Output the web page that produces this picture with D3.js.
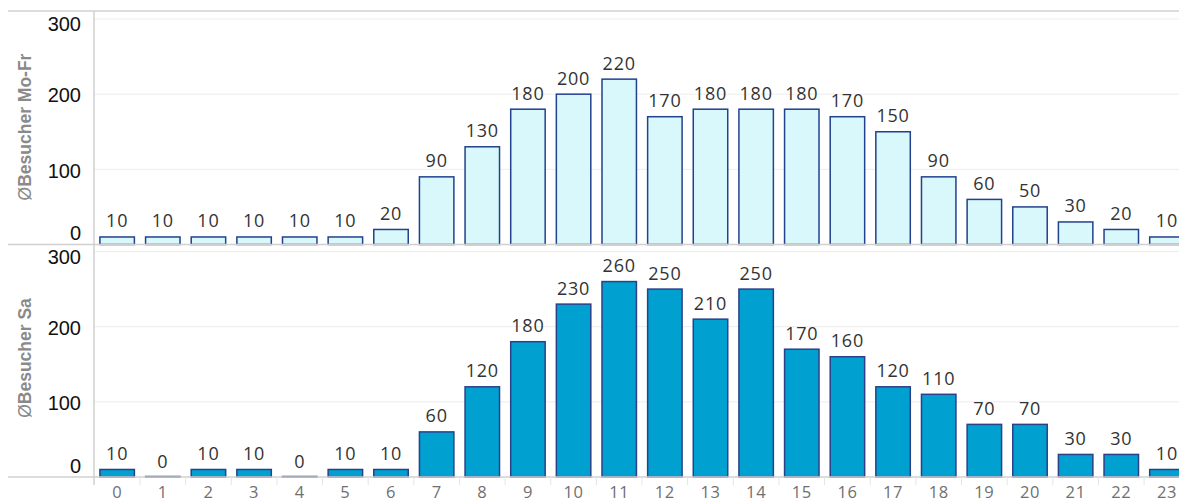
<!DOCTYPE html>
<html>
<head>
<meta charset="utf-8">
<script src="https://cdn.jsdelivr.net/npm/d3@7"></script>
<style>
body { margin: 0; background: #fff; }
svg { display: block; }
</style>
</head>
<body>
<div id="chart"></div>
<script>
// hours of the day
const hours = d3.range(0, 24).map(String);
const moFr = [10,10,10,10,10,10,20,90,130,180,200,220,170,180,180,180,170,150,90,60,50,30,20,10];
const sa   = [10,0,10,10,0,10,10,60,120,180,230,260,250,210,250,170,160,120,110,70,70,30,30,10];
const yTicks = [0, 100, 200, 300];
const panelTitles = ["Besucher Mo-Fr", "Besucher Sa"];

const W = 1179, H = 502;
const axisX = 94;

const svg = d3.select("#chart").append("svg")
  .attr("width", W).attr("height", H);

const x = d3.scaleBand()
  .domain(hours)
  .range([axisX, axisX + 24 * 45.67])
  .paddingInner(0.245)
  .paddingOuter(0.13);

const panels = [
  { data: moFr, top: 11, base: 244.5, fill: "#d8f8fc", stroke: "#22418e", title: panelTitles[0], tmid: 127 },
  { data: sa,   top: 244.5, base: 477, fill: "#00a0d1", stroke: "#2a4089", title: panelTitles[1], tmid: 358 }
];

panels.forEach((p, pi) => {
  const y = d3.scaleLinear().domain([0, 300]).range([p.base, p.base - 225.5]);
  const g = svg.append("g");

  // gridlines
  g.selectAll(".grid").data(yTicks.filter(t => t > 0)).enter().append("line")
    .attr("x1", axisX).attr("x2", W)
    .attr("y1", d => y(d)).attr("y2", d => y(d))
    .attr("stroke", "#ededed").attr("stroke-width", 1);

  // y tick labels (kept inside the pane like the original)
  g.selectAll(".tick").data(yTicks).enter().append("text")
    .attr("x", 81)
    .attr("y", d => {
      let yy = y(d) + 1;
      if (d === 0) yy = p.base - 11.5;
      if (d === 300) yy = Math.max(yy, p.top + 12.5);
      return yy;
    })
    .attr("dy", "0.36em")
    .attr("text-anchor", "end")
    .attr("font-family", "Liberation Sans, Arial, sans-serif")
    .attr("font-size", 20)
    .attr("fill", "#111")
    .text(d => d);

  // axis title
  const t = g.append("text")
    .attr("transform", `translate(31,${p.tmid}) rotate(-90)`)
    .attr("text-anchor", "middle")
    .attr("font-family", "Liberation Sans, Arial, sans-serif")
    .attr("font-size", 17.5)
    .attr("fill", "#8a8a8a");
  t.append("tspan").text("Ø");
  t.append("tspan").attr("font-weight", "bold").text(p.title);

  // bars
  g.selectAll(".bar").data(p.data).enter().append("rect")
    .attr("x", (d, i) => x(hours[i]))
    .attr("width", x.bandwidth())
    .attr("y", d => y(d) - (d === 0 ? 0.5 : 0))
    .attr("height", d => Math.max(p.base - y(d), 0.5))
    .attr("fill", p.fill)
    .attr("stroke", p.stroke)
    .attr("stroke-width", 1.5);

  // value labels
  g.selectAll(".lbl").data(p.data).enter().append("text")
    .attr("x", (d, i) => x(hours[i]) + x.bandwidth() / 2)
    .attr("y", d => y(d) - 9.5)
    .attr("text-anchor", "middle")
    .attr("font-family", "Open Sans, sans-serif")
    .attr("font-size", 18)
    .attr("letter-spacing", 0.8)
    .attr("fill", "#333")
    .text(d => d);
});

// frame lines
const frame = svg.append("g").attr("stroke", "#d0d0d0").attr("stroke-width", 1.5);
frame.append("line").attr("x1", 8).attr("x2", W).attr("y1", 11).attr("y2", 11);
frame.append("line").attr("x1", 8).attr("x2", W).attr("y1", 244.5).attr("y2", 244.5);
frame.append("line").attr("x1", 8).attr("x2", W).attr("y1", 477).attr("y2", 477);
frame.append("line").attr("x1", axisX).attr("x2", axisX).attr("y1", 11).attr("y2", 485);

// x axis
const xAxis = svg.append("g").attr("transform", "translate(0,477)");
xAxis.selectAll(".sep").data(hours).enter().append("line")
  .attr("x1", d => x(d) - x.step() * x.paddingInner() / 2 + x.step())
  .attr("x2", d => x(d) - x.step() * x.paddingInner() / 2 + x.step())
  .attr("y1", 0).attr("y2", 8)
  .attr("stroke", "#e4e4e4");
xAxis.selectAll(".xl").data(hours).enter().append("text")
  .attr("x", d => x(d) + x.bandwidth() / 2)
  .attr("y", 20.5)
  .attr("text-anchor", "middle")
  .attr("font-family", "Open Sans, sans-serif")
  .attr("font-size", 16.5)
  .attr("letter-spacing", 0.6)
  .attr("fill", "#707070")
  .text(d => d);
</script>
</body>
</html>
